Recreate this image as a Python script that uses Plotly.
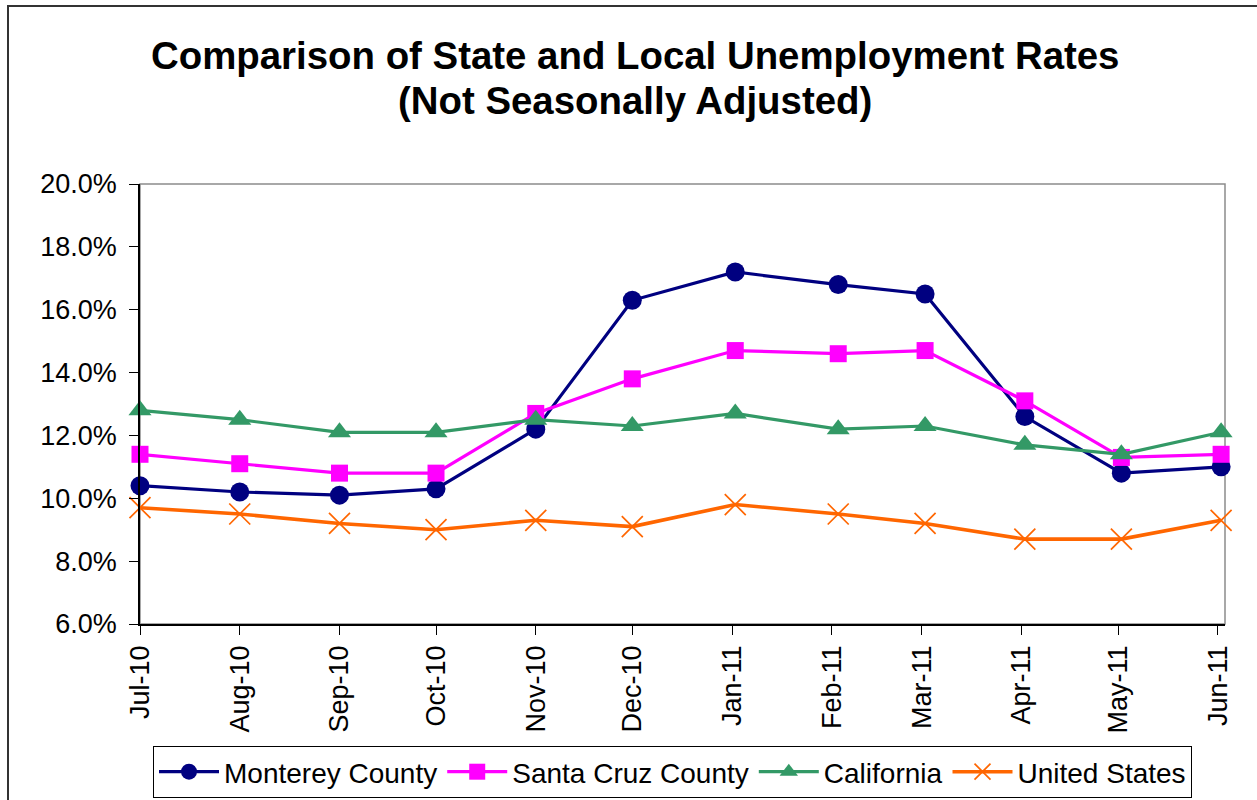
import plotly.graph_objects as go

# ---- data ----
point_dates = ["2010-07-01", "2010-08-01", "2010-09-01", "2010-10-01", "2010-11-01", "2010-12-01",
               "2011-01-02", "2011-02-03", "2011-03-02", "2011-04-02", "2011-05-02", "2011-06-02"]
tick_dates = ["2010-07-01", "2010-08-01", "2010-09-01", "2010-10-01", "2010-11-01", "2010-12-01",
              "2011-01-01", "2011-02-01", "2011-03-01", "2011-04-01", "2011-05-01", "2011-06-01"]
tick_labels = ["Jul-10", "Aug-10", "Sep-10", "Oct-10", "Nov-10", "Dec-10",
               "Jan-11", "Feb-11", "Mar-11", "Apr-11", "May-11", "Jun-11"]

monterey = [10.4, 10.2, 10.1, 10.3, 12.2, 16.3, 17.2, 16.8, 16.5, 12.6, 10.8, 11.0]
santa_cruz = [11.4, 11.1, 10.8, 10.8, 12.7, 13.8, 14.7, 14.6, 14.7, 13.1, 11.3, 11.4]
california = [12.8, 12.5, 12.1, 12.1, 12.5, 12.3, 12.7, 12.2, 12.3, 11.7, 11.4, 12.1]
united_states = [9.7, 9.5, 9.2, 9.0, 9.3, 9.1, 9.8, 9.5, 9.2, 8.7, 8.7, 9.3]

title_lines = ["Comparison of State and Local Unemployment Rates", "(Not Seasonally Adjusted)"]

FONT = "Liberation Sans, Arial, sans-serif"
W, H = 1257, 800
L, R, T, B = 140, 32, 184, 176
PW, PH = W - L - R, H - T - B

series = [
    ("Monterey County", monterey, "#000080", "circle", 19, 3.2),
    ("Santa Cruz County", santa_cruz, "#FF00FF", "square", 17, 3.2),
    ("California", california, "#339966", "triangle-up", 20, 3.2),
    ("United States", united_states, "#FF6600", "x-thin", 21, 3.6),
]

fig = go.Figure()
for name, vals, color, sym, size, lw in series:
    marker = dict(symbol=sym, size=size, color=color)
    if sym == "x-thin":
        marker["line"] = dict(color=color, width=1.7)
    fig.add_trace(go.Scatter(
        x=point_dates, y=vals, name=name, mode="lines+markers",
        line=dict(color=color, width=lw), marker=marker, cliponaxis=False,
    ))

# plot-area frame (top and right in grey) and outer chart border
fig.add_shape(type="rect", xref="paper", yref="paper", x0=0, x1=1, y0=0, y1=1,
              line=dict(color="#8c8c8c", width=1.5), layer="below")
fig.add_shape(type="rect", xref="paper", yref="paper",
              x0=(8 - L) / PW, x1=(1275 - L) / PW,
              y0=(H - B - 820) / PH, y1=(H - B - 6) / PH,
              line=dict(color="#333333", width=2), layer="below")

# title as two centred lines
for text, yc in zip(title_lines, [55, 101]):
    fig.add_annotation(
        text=f"<b>{text}</b>", xref="paper", yref="paper",
        x=(634.5 - L) / PW, xanchor="center",
        y=(H - B - yc) / PH, yanchor="middle",
        showarrow=False, font=dict(size=38.4, family=FONT, color="black"),
    )

fig.update_layout(
    width=W, height=H,
    margin=dict(l=L, r=R, t=T, b=B, autoexpand=False),
    paper_bgcolor="white", plot_bgcolor="white",
    font=dict(family=FONT, color="black"),
    xaxis=dict(
        type="date", range=["2010-07-01", "2011-06-03 05:00"],
        tickmode="array", tickvals=tick_dates, ticktext=tick_labels,
        tickangle=-90, ticks="outside", ticklen=9, tickcolor="black", tickwidth=1,
        showline=True, linecolor="black", linewidth=1.5,
        showgrid=False, zeroline=False, automargin=False,
        tickfont=dict(size=27, family=FONT, color="black"),
    ),
    yaxis=dict(
        range=[6, 20], dtick=2, tick0=6, tickformat=".1f", ticksuffix="%",
        ticks="outside", ticklen=9, tickcolor="black", tickwidth=1,
        showline=True, linecolor="black", linewidth=1.5,
        showgrid=False, zeroline=False, automargin=False,
        ticklabelstandoff=7,
        tickfont=dict(size=27, family=FONT, color="black"),
    ),
    legend=dict(
        orientation="h", x=(153 - L) / PW, xanchor="left",
        y=(H - B - 798) / PH, yanchor="bottom",
        bgcolor="white", bordercolor="black", borderwidth=1,
        font=dict(size=28, family=FONT, color="black"),
        itemwidth=60, tracegroupgap=0,
    ),
    showlegend=True,
)

fig.write_html("out.html", config={"displayModeBar": False},
               post_script="document.body.style.margin='0px';")
